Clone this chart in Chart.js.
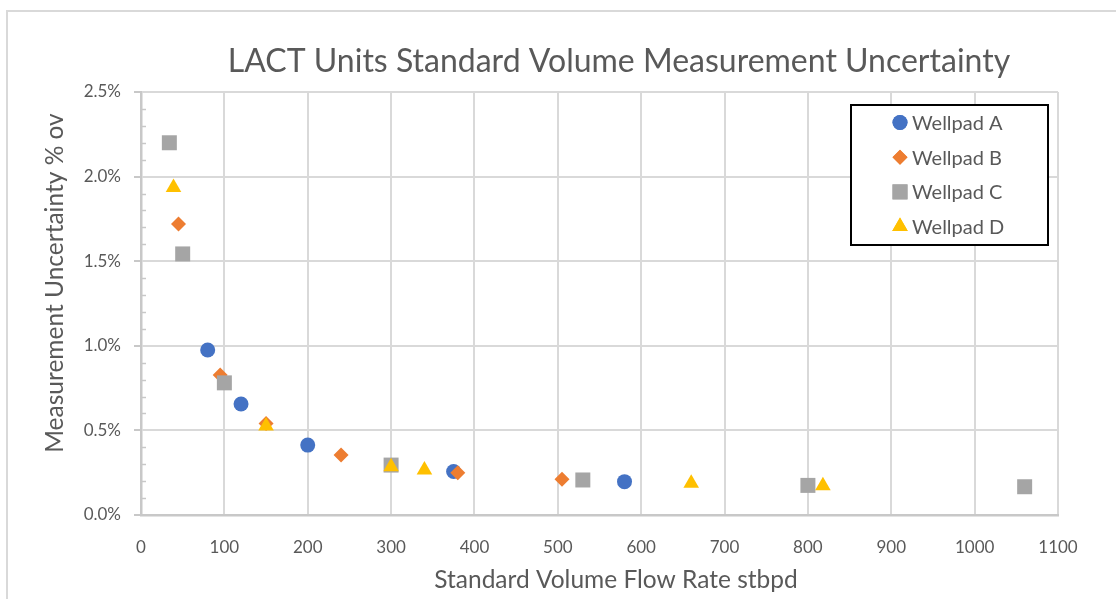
<!DOCTYPE html>
<html>
<head>
<meta charset="utf-8">
<script src="https://cdn.jsdelivr.net/npm/chart.js@4.4.1/dist/chart.umd.min.js"></script>
<style>
  html, body { margin: 0; padding: 0; background: #fff; }
  #wrap { position: relative; width: 1116px; height: 599px; }
</style>
</head>
<body>
<div id="wrap"><canvas id="chart" width="1116" height="599"></canvas></div>
<script>
const seriesNames = ["Wellpad A", "Wellpad B", "Wellpad C", "Wellpad D"];
const seriesColors = ["#4472C4", "#ED7D31", "#A5A5A5", "#FFC000"];

// flow rate (stbpd) and uncertainty (% of volume)
const aFlow = [80, 120, 200, 375, 580];
const aUnc = [0.975, 0.656, 0.413, 0.257, 0.197];
const bFlow = [45, 95, 150, 240, 380, 505];
const bUnc = [1.72, 0.827, 0.541, 0.354, 0.25, 0.211];
const cFlow = [34, 50, 100, 300, 530, 800, 1060];
const cUnc = [2.2, 1.543, 0.781, 0.295, 0.207, 0.175, 0.167];
const dFlow = [39, 150, 300, 340, 660, 818];
const dUnc = [1.935, 0.526, 0.285, 0.266, 0.187, 0.173];

const titleText = "LACT Units Standard Volume Measurement Uncertainty";
const xTitle = "Standard Volume Flow Rate stbpd";
const yTitle = "Measurement Uncertainty % ov";

const FONT = "Lato, 'Open Sans', sans-serif";
const TEXT = "#595959";

function toPoints(xs, ys) {
  return xs.map((x, i) => ({ x: x, y: ys[i] }));
}

const styles = [
  { pointStyle: "circle", radius: 7.5 },
  { pointStyle: "rectRot", radius: 7.5 },
  { pointStyle: "rect", radius: 10.6 },
  { pointStyle: "triangle", radius: 9 },
];
const allData = [toPoints(aFlow, aUnc), toPoints(bFlow, bUnc), toPoints(cFlow, cUnc), toPoints(dFlow, dUnc)];

const decor = {
  id: "decor",
  beforeDraw(chart) {
    const ctx = chart.ctx;
    ctx.save();
    ctx.fillStyle = "#fff";
    ctx.fillRect(0, 0, chart.width, chart.height);
    ctx.strokeStyle = "#d9d9d9";
    ctx.lineWidth = 2;
    ctx.strokeRect(7, 11, 1300, 800);
    ctx.restore();
  },
  afterDraw(chart) {
    const ctx = chart.ctx;
    const area = chart.chartArea;
    const yScale = chart.scales.y;
    ctx.save();

    // minor ticks on the value axis
    ctx.strokeStyle = "#c8c8c8";
    ctx.lineWidth = 1.5;
    for (let v = 1; v < 25; v++) {
      if (v % 5 === 0) continue;
      const py = Math.round(yScale.getPixelForValue(v / 10)) + 0.5;
      ctx.beginPath();
      ctx.moveTo(area.left, py);
      ctx.lineTo(area.left + 5, py);
      ctx.stroke();
    }

    // title and axis titles
    ctx.fillStyle = TEXT;
    ctx.textAlign = "center";
    ctx.textBaseline = "middle";
    ctx.font = "32px " + FONT;
    ctx.fillText(titleText, 619, 62);
    ctx.font = "24.5px " + FONT;
    ctx.fillText(xTitle, 616, 580);
    ctx.save();
    ctx.translate(55, 283);
    ctx.rotate(-Math.PI / 2);
    ctx.fillText(yTitle, 0, 0);
    ctx.restore();

    // legend box
    ctx.fillStyle = "#fff";
    ctx.fillRect(851, 105, 197, 140);
    ctx.strokeStyle = "#000";
    ctx.lineWidth = 2;
    ctx.strokeRect(851, 105, 197, 140);
    ctx.font = "20px " + FONT;
    ctx.textAlign = "left";
    seriesNames.forEach((name, i) => {
      const cy = 122.5 + i * 34.7;
      ctx.fillStyle = seriesColors[i];
      Chart.helpers.drawPoint(ctx, {
        pointStyle: styles[i].pointStyle,
        radius: styles[i].radius,
        rotation: 0,
        borderWidth: 0,
      }, 900, cy);
      ctx.fill();
      ctx.fillStyle = TEXT;
      ctx.fillText(name, 912, cy + 1);
    });
    ctx.restore();
  },
};

new Chart(document.getElementById("chart"), {
  type: "scatter",
  data: {
    datasets: seriesNames.map((name, i) => ({
      label: name,
      data: allData[i],
      pointStyle: styles[i].pointStyle,
      pointRadius: styles[i].radius,
      pointHoverRadius: styles[i].radius,
      backgroundColor: seriesColors[i],
      borderColor: seriesColors[i],
      borderWidth: 0,
      order: seriesNames.length - i,
    })),
  },
  options: {
    responsive: false,
    animation: false,
    devicePixelRatio: 1,
    layout: { padding: { left: 0, top: 92, right: 58, bottom: 0 } },
    plugins: {
      legend: { display: false },
      title: { display: false },
      tooltip: { enabled: false },
    },
    scales: {
      x: {
        type: "linear",
        min: 0,
        max: 1100,
        afterFit(scale) { scale.height = 84; },
        ticks: {
          stepSize: 100,
          color: TEXT,
          font: { family: FONT, size: 17 },
          padding: 22,
          maxRotation: 0,
          callback: (v) => String(v),
        },
        grid: { color: "#d9d9d9", lineWidth: 2, drawTicks: false },
        border: { color: "#c8c8c8", width: 2.5 },
      },
      y: {
        type: "linear",
        min: 0,
        max: 2.5,
        afterFit(scale) { scale.width = 141; },
        ticks: {
          stepSize: 0.5,
          color: TEXT,
          font: { family: FONT, size: 17 },
          padding: 13,
          callback: (v) => v.toFixed(1) + "%",
        },
        grid: { color: "#d9d9d9", lineWidth: 2, tickLength: 7, tickColor: "#c8c8c8", tickWidth: 2 },
        border: { color: "#c8c8c8", width: 2.5 },
      },
    },
  },
  plugins: [decor],
});
</script>
</body>
</html>
